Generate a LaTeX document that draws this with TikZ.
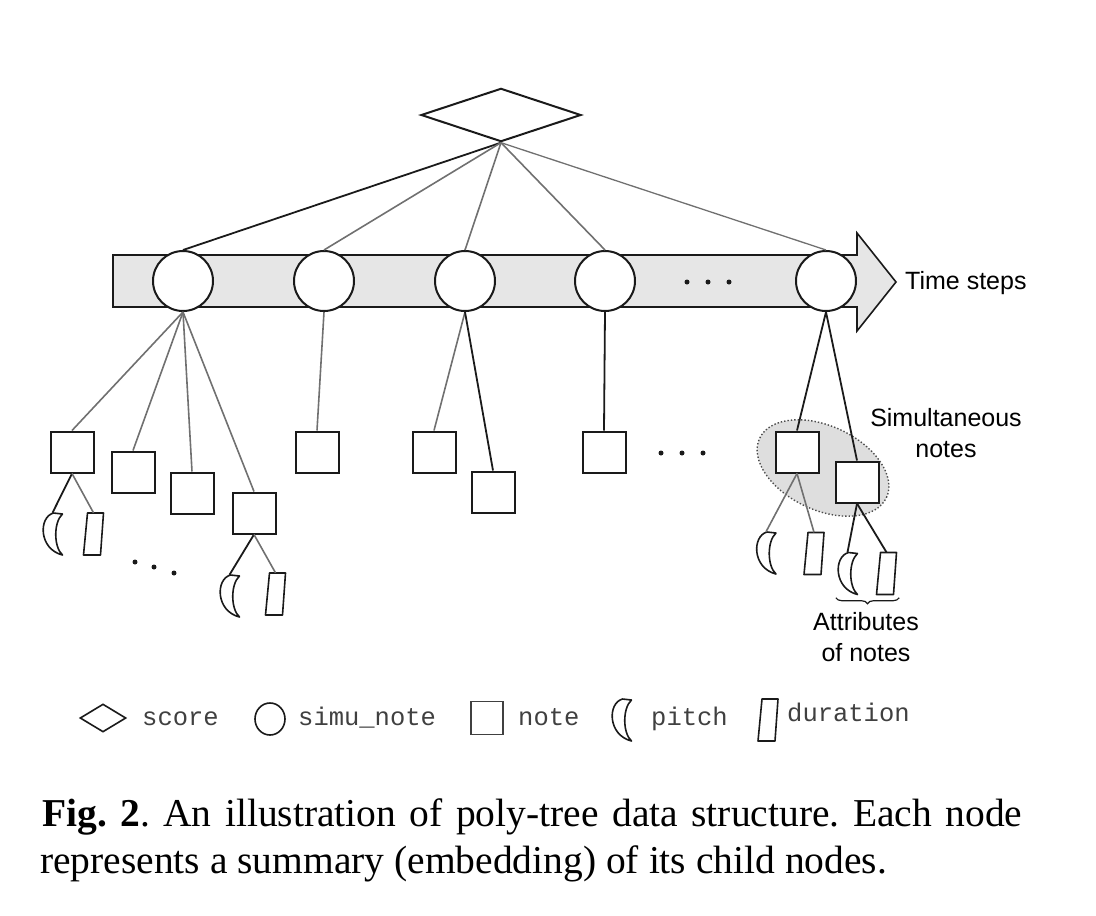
\documentclass[tikz,border=0pt]{standalone}
\usepackage{fontspec}
\setmainfont{Liberation Serif}
\setsansfont{Liberation Sans}
\setmonofont{Liberation Mono}
\usetikzlibrary{shapes.geometric,decorations.pathreplacing}
\definecolor{bandgray}{HTML}{E6E6E6}
\definecolor{linegray}{HTML}{707070}
\definecolor{inkblack}{HTML}{1A1A1A}
\begin{document}
\frenchspacing
\begin{tikzpicture}[x=1pt,y=-1pt,
  outline/.style={draw=inkblack, line width=2pt},
  scorenode/.style={diamond, outline, fill=white, inner sep=0pt, minimum width=#1, minimum height=#1/3},
  simunode/.style={circle, outline, fill=white, inner sep=0pt, minimum size=#1},
  notenode/.style={rectangle, outline, fill=white, inner sep=0pt, minimum width=#1, minimum height=#1-2pt},
  glink/.style={draw=linegray, line width=1.6pt},
  blink/.style={draw=inkblack, line width=1.8pt},
  attrline/.style={draw=inkblack, line width=1.6pt, fill=white, line join=round},
  labeltext/.style={font=\sffamily\fontsize{25}{31}\selectfont, inner sep=0pt, align=center},
  legendtext/.style={font=\ttfamily\fontsize{25.5}{30}\selectfont, text=black!75, inner sep=0pt, anchor=base west},
  captiontext/.style={font=\fontsize{39.5}{47}\selectfont, inner sep=0pt, anchor=base west},
  pics/pitch/.style={code={
    \node[inner sep=0pt, minimum width=21pt, minimum height=42pt] (-box) {};
    \path[attrline] (10,-20) -- (1,-21) .. controls (-14,-17) and (-14,15) .. (10,21)
      .. controls (1,13) and (1,-12) .. (10,-20) -- cycle;
  }},
  pics/duration/.style={code={
    \node[inner sep=0pt, minimum width=21pt, minimum height=42pt] (-box) {};
    \path[attrline] (-6,-21) -- (10,-21) -- (7,21) -- (-10,21) -- cycle;
  }},
  dot/.style={fill=inkblack}
]
\useasboundingbox (0,0) rectangle (1096,916);

% time band arrow
\path[draw=inkblack, line width=1.6pt, fill=bandgray, line join=miter]
  (113,255) -- (857,255) -- (857,233) -- (896,282) -- (857,331) -- (857,307) -- (113,307) -- cycle;

% simultaneous notes ellipse
\node[ellipse, draw=black!70, dotted, line width=1.4pt, fill=black!13, minimum width=140pt, minimum height=84pt, rotate=-25] (simu) at (823,468) {};

% score
\node[scorenode=160pt] (score) at (501,115) {};

% simu notes
\node[simunode=60pt] (c1) at (183,281) {};
\node[simunode=60pt] (c2) at (324,281) {};
\node[simunode=60pt] (c3) at (465,281) {};
\node[simunode=60pt] (c4) at (605,281) {};
\node[simunode=60pt] (c5) at (826,281) {};
\fill[dot] (687,282) circle (2.5) (708,282) circle (2.5) (729,282) circle (2.5);

% notes
\node[notenode=43pt] (nA) at (72,452) {};
\node[notenode=43pt] (nB) at (133,472) {};
\node[notenode=43pt] (nC) at (192,493) {};
\node[notenode=43pt] (nD) at (254,513) {};
\node[notenode=43pt] (nE) at (317,452) {};
\node[notenode=43pt] (nF) at (434,452) {};
\node[notenode=43pt] (nG) at (493,492) {};
\node[notenode=43pt] (nH) at (604,452) {};
\node[notenode=43pt] (nI) at (797,452) {};
\node[notenode=43pt] (nJ) at (857,482) {};
\fill[dot] (661,453) circle (2.5) (682,453) circle (2.5) (703,453) circle (2.5);
\fill[dot] (135,562) circle (2.5) (154,567) circle (2.5) (174,573) circle (2.5);

% attributes
\pic (pA) at (52.5,534) {pitch};
\pic (dA) at (93.5,534) {duration};
\pic (pD) at (229.5,596) {pitch};
\pic (dD) at (275.5,594) {duration};
\pic (pI) at (766,553) {pitch};
\pic (dI) at (814,553.5) {duration};
\pic (pJ) at (847.5,573.5) {pitch};
\pic (dJ) at (886.5,573.5) {duration};

% connectors score -> simu notes
\path[blink] (score.south) -- (c1.north);
\path[glink] (score.south) -- (c2.north);
\path[glink] (score.south) -- (c3.north);
\path[glink] (score.south) -- (c4.north);
\path[glink, line width=1.3pt] (score.south) -- (c5.north);

% simu notes -> notes
\path[glink] (c1.south) -- (nA.north);
\path[glink] (c1.south) -- (nB.north);
\path[glink] (c1.south) -- (nC.north);
\path[glink] (c1.south) -- (nD.north);
\path[glink] (c2.south) -- (nE.north);
\path[glink] (c3.south) -- (nF.north);
\path[blink] (c3.south) -- (nG.north);
\path[blink] (c4.south) -- (nH.north);
\path[blink] (c5.south) -- (nI.north);
\path[blink] (c5.south) -- (nJ.north);

% notes -> attributes
\path[blink] (nA.south) -- (pA-box.north);
\path[glink] (nA.south) -- (dA-box.north);
\path[blink] (nD.south) -- (pD-box.north);
\path[glink] (nD.south) -- (dD-box.north);
\path[glink] (nI.south) -- (pI-box.north);
\path[glink] (nI.south) -- (dI-box.north);
\path[blink] (nJ.south) -- (pJ-box.north);
\path[blink] (nJ.south) -- (dJ-box.north);

% brace
\path (pJ-box.south west) ++(-1,3) coordinate (bl);
\path (dJ-box.south east) ++(2,3) coordinate (br);
\draw[draw=inkblack, line width=1.2pt, decorate, decoration={brace, mirror, amplitude=6pt}] (bl) -- (br);

% labels
\node[labeltext, anchor=west] (tlabel) at (905,283) {Time steps};
\node[labeltext] (slabel) at (946,433) {Simultaneous\\notes};
\node[labeltext] (alabel) at (866,637) {Attributes\\of notes};

% legend
\node[scorenode=46pt, minimum height=28pt, line width=1.6pt] (lscore) at (103,718) {};
\node[legendtext] (tscore) at (142,725) {score};
\node[simunode=30pt, minimum height=32pt, ellipse, line width=1.6pt] (lsimu) at (270,719) {};
\node[legendtext] (tsimu) at (298,725) {simu\_note};
\node[notenode=32pt, minimum height=33pt, line width=1.8pt, draw=black!75] (lnote) at (487,718) {};
\node[legendtext] (tnote) at (518,725) {note};
\pic (lpitch) at (621.5,720) {pitch};
\node[legendtext] (tpitch) at (651,725) {pitch};
\pic (ldur) at (768,720) {duration};
\node[legendtext] (tdur) at (787,721) {duration};

% caption
\node[captiontext] (cap1) at (42,826) {\makebox[980pt][s]{\textbf{Fig. 2}. An illustration of poly-tree data structure. Each node}};
\node[captiontext] (cap2) at (40,873) {represents a summary (embedding) of its child nodes.};
\end{tikzpicture}
\end{document}
